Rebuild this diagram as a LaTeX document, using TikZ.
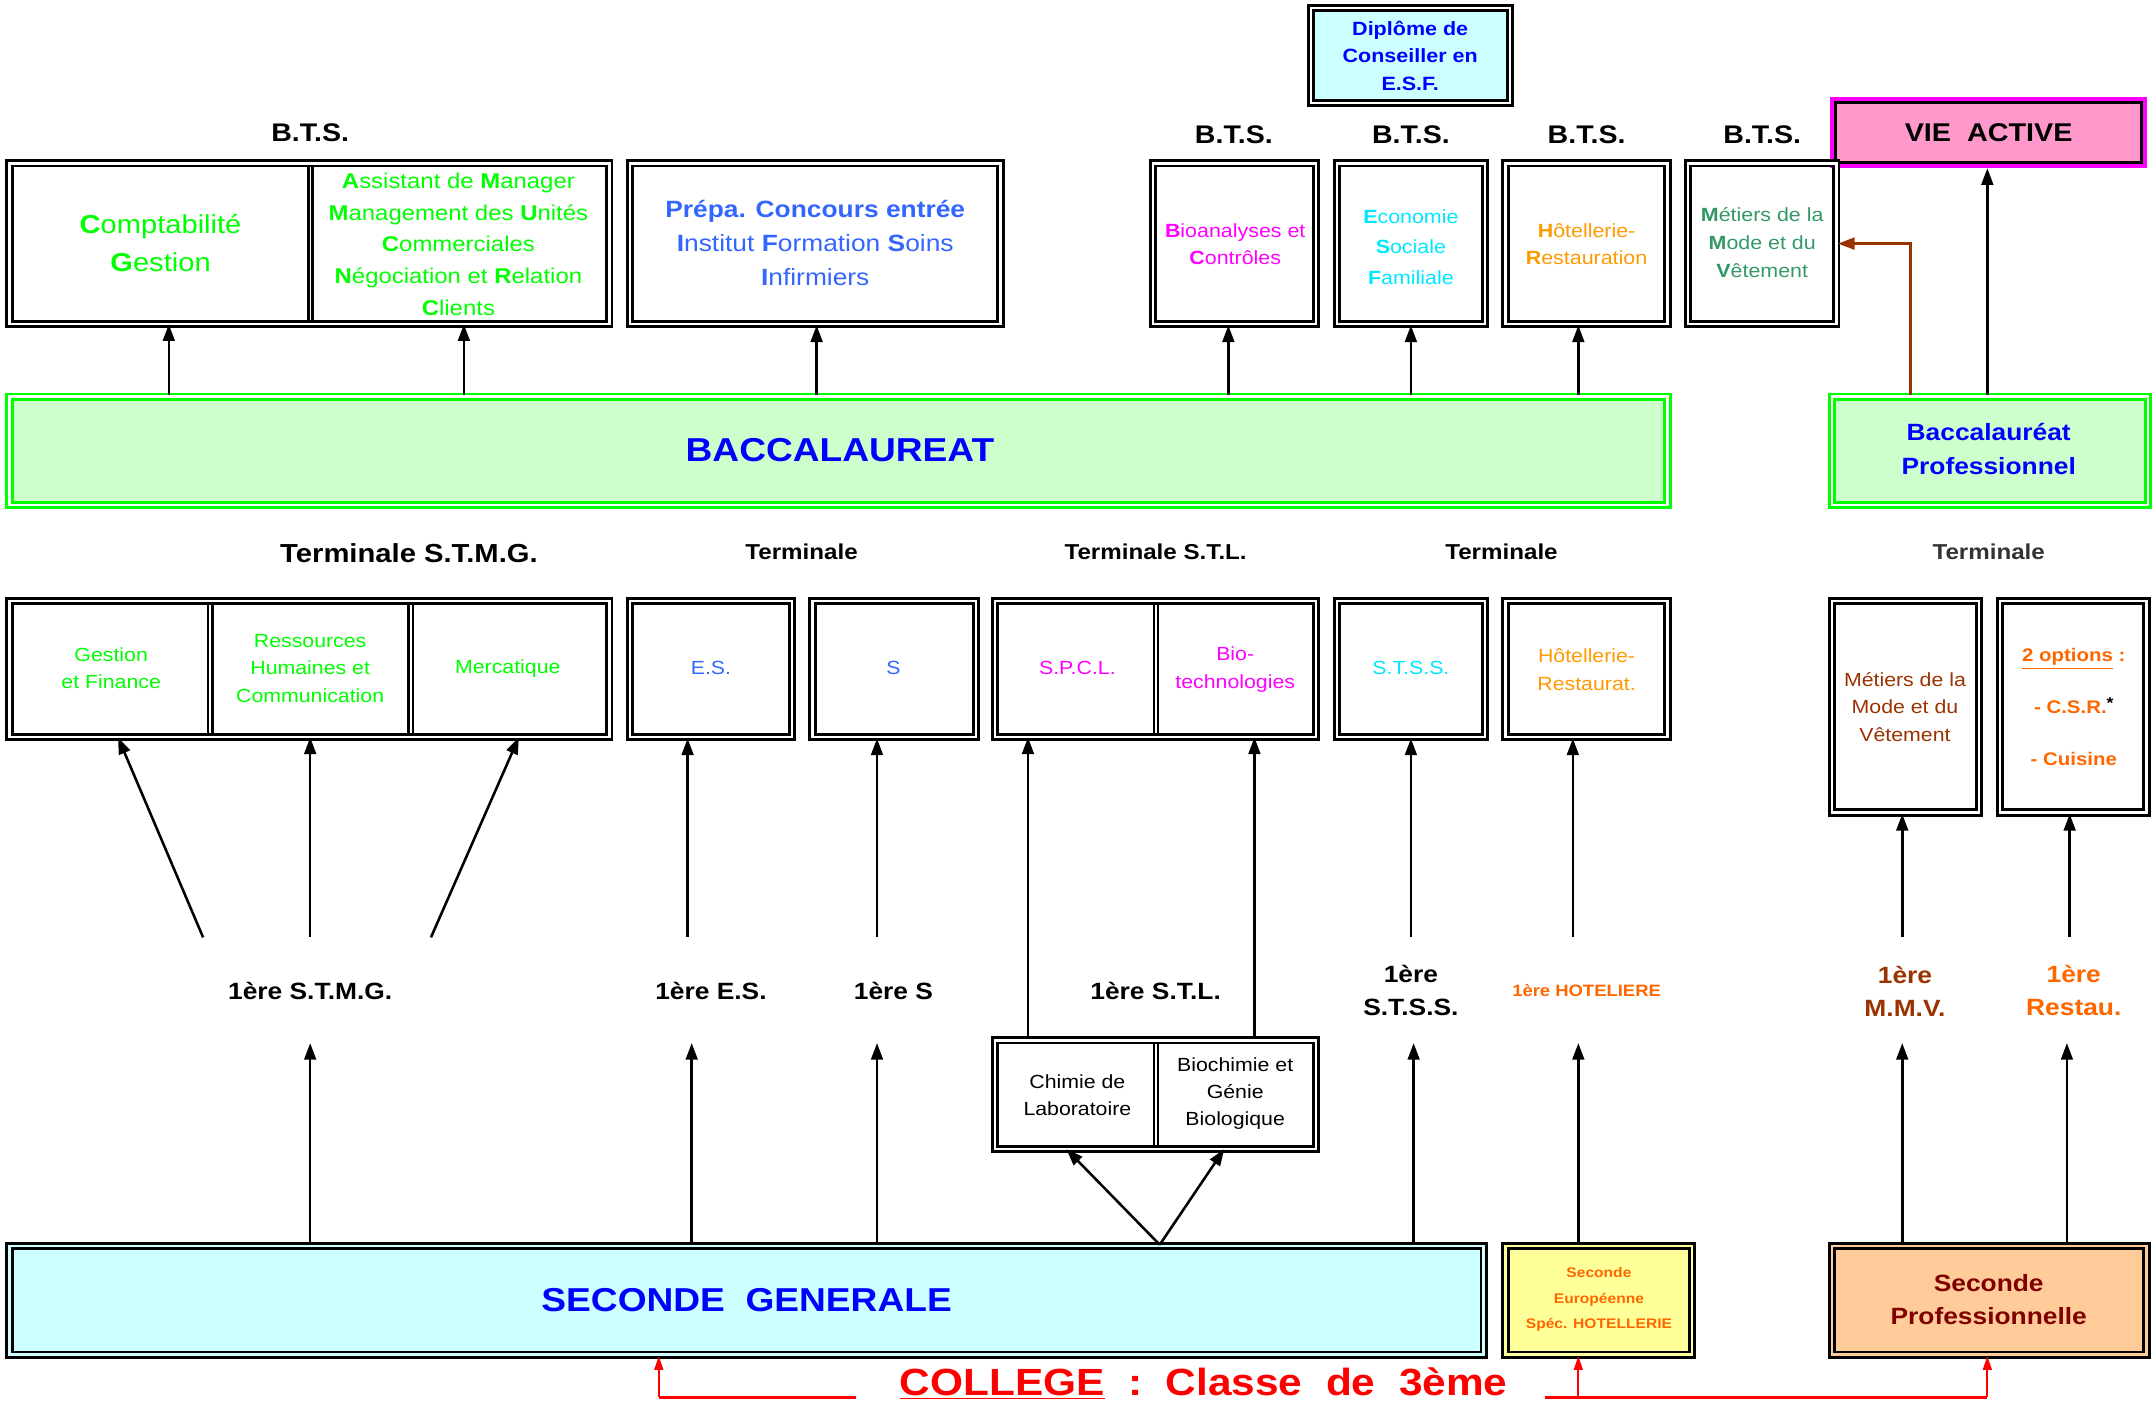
\documentclass[tikz,border=0pt]{standalone}
\usepackage{fontspec}
\setmainfont{Liberation Sans}[FakeStretch=1.12]
\usetikzlibrary{fit,arrows.meta}
\definecolor{cLime}{HTML}{00FF00}
\definecolor{cBacF}{HTML}{CCFFCC}
\definecolor{cBlue}{HTML}{0000FF}
\definecolor{cPrep}{HTML}{3366FF}
\definecolor{cMag}{HTML}{FF00FF}
\definecolor{cCyan}{HTML}{00E8FF}
\definecolor{cOrange}{HTML}{FF9900}
\definecolor{cSea}{HTML}{339966}
\definecolor{cBrown}{HTML}{993300}
\definecolor{cOrRed}{HTML}{FF6600}
\definecolor{cDarkRed}{HTML}{800000}
\definecolor{cRed}{HTML}{FF0000}
\definecolor{cGray}{HTML}{333333}
\definecolor{cPink}{HTML}{FF99CC}
\definecolor{cCyanF}{HTML}{CCFFFF}
\definecolor{cYellowF}{HTML}{FFFF99}
\definecolor{cPeachF}{HTML}{FFCC99}
\newcommand{\myfs}[2]{\fontsize{#1}{#2}\selectfont}
\begin{document}
\begin{tikzpicture}[x=0.7pt,y=-0.7pt,
  dbl/.style={draw=black, line width=1.5pt, double=white, double distance=1.2pt, inner sep=0pt},
  gdbl/.style={draw=cLime, line width=1.5pt, double=white, double distance=1.2pt, inner sep=0pt, fill=cBacF},
  cell/.style={inner sep=0pt},
  divl/.style={draw=black, line width=1.3pt, double=white, double distance=0.9pt},
  lbl/.style={inner sep=0pt, align=center},
  hd/.style={lbl, font=\bfseries\myfs{11}{14}},
  one/.style={lbl, font=\bfseries\myfs{12}{16.8}},
  tc/.style={lbl, font=\myfs{9.7}{14}},
  arr/.style={line width=1.3pt, -{Triangle[length=8.5pt,width=6pt]}},
  brarr/.style={draw=cBrown, line width=1.2pt, -{Triangle[length=8.5pt,width=6pt]}},
  rline/.style={draw=cRed, line width=1.7pt},
  rarr/.style={draw=cRed, line width=1pt, -{Triangle[length=7pt,width=4.5pt]}}
]
\useasboundingbox (0,0) rectangle (1568,1024);

% ---------- top : diploma, BTS, vie active ----------
\node[dbl, fill=cCyanF, fit={(955,6) (1100,75)}] (dipl) {};
\node[lbl, text=cBlue, font=\bfseries\myfs{9.8}{14}] (diplT) at (dipl.center) {Diplôme de\\Conseiller en\\E.S.F.};

\node[hd, font=\bfseries\myfs{13}{15}] (bts1) at (226,97) {B.T.S.};
\node[hd, font=\bfseries\myfs{13}{15}] (bts2) at (899,98) {B.T.S.};
\node[hd, font=\bfseries\myfs{13}{15}] (bts3) at (1028,98) {B.T.S.};
\node[hd, font=\bfseries\myfs{13}{15}] (bts4) at (1156,98) {B.T.S.};
\node[hd, font=\bfseries\myfs{13}{15}] (bts5) at (1284,98) {B.T.S.};

\node[fit={(1335,72) (1563,121)}, inner sep=0pt, draw=cMag, line width=2.2pt, fill=cPink] (vie) {};
\draw[black, line width=1.6pt] ([shift={(2.8pt,-2.8pt)}]vie.north west) rectangle ([shift={(-2.8pt,2.8pt)}]vie.south east);
\node[lbl, font=\bfseries\myfs{13.1}{15}] (vieT) at (vie.center) {VIE\ \ ACTIVE};

% BTS boxes
\node[cell, fit={(7,119) (226,236)}] (cg) {};
\node[cell, fit={(226,119) (444,236)}] (amu) {};
\node[dbl, fit={(7,119) (444,236)}] (grpA) {};
\draw[divl] ([yshift=-2pt]cg.north east) -- ([yshift=2pt]cg.south east);
\node[lbl, text=cLime, font=\myfs{13.25}{19.6}] (cgT) at (117,177) {\textbf{C}omptabilité\\\textbf{G}estion};
\node[lbl, text=cLime, font=\myfs{10.9}{16.1}] (amuT) at (334,178) {\textbf{A}ssistant de \textbf{M}anager\\\textbf{M}anagement des \textbf{U}nités\\\textbf{C}ommerciales\\\textbf{N}égociation et \textbf{R}elation\\\textbf{C}lients};

\node[dbl, fit={(459,119) (729,236)}] (prepa) {};
\node[lbl, text=cPrep, font=\myfs{12}{17.2}] (prepaT) at (594,177) {\textbf{Prépa. Concours entrée}\\\textbf{I}nstitut \textbf{F}ormation \textbf{S}oins\\\textbf{I}nfirmiers};

\node[dbl, fit={(840,119) (959,236)}] (bio) {};
\node[lbl, text=cMag, font=\myfs{9.75}{14}] (bioT) at (900,178) {\textbf{B}ioanalyses et\\\textbf{C}ontrôles};
\node[dbl, fit={(974,119) (1082,236)}] (esf) {};
\node[lbl, text=cCyan, font=\myfs{9.75}{15.75}] (esfT) at (1028,180) {\textbf{E}conomie\\\textbf{S}ociale\\\textbf{F}amiliale};
\node[dbl, fit={(1097,119) (1215,236)}] (hr) {};
\node[lbl, text=cOrange, font=\myfs{9.75}{14}] (hrT) at (1156,178) {\textbf{H}ôtellerie-\\\textbf{R}estauration};
\node[dbl, fit={(1230,119) (1338,236)}] (mmv) {};
\node[lbl, text=cSea, font=\myfs{9.75}{14.3}] (mmvT) at (1284,177) {\textbf{M}étiers de la\\\textbf{M}ode et du\\\textbf{V}êtement};

% ---------- baccalaureat ----------
\node[gdbl, fit={(7,289) (1215,368)}] (bac) {};
\node[lbl, text=cBlue, font=\bfseries\myfs{16.9}{20}] (bacT) at (612,328) {BACCALAUREAT};
\node[gdbl, fit={(1335,289) (1565,368)}] (bacpro) {};
\node[lbl, text=cBlue, font=\bfseries\myfs{12}{17.5}] (bacproT) at (1449,327) {Baccalauréat\\Professionnel};

\draw[arr] (123,0 |- bac.north) -- (123,0 |- cg.south);
\draw[arr] (338,0 |- bac.north) -- (338,0 |- amu.south);
\draw[arr] (595,0 |- bac.north) -- (595,0 |- prepa.south);
\draw[arr] (895,0 |- bac.north) -- (895,0 |- bio.south);
\draw[arr] (1028,0 |- bac.north) -- (1028,0 |- esf.south);
\draw[arr] (1150,0 |- bac.north) -- (1150,0 |- hr.south);
\draw[arr] (1448,0 |- bacpro.north) -- (1448,0 |- vie.south);
\draw[brarr] (1392,0 |- bacpro.north) |- (mmv.east);

% ---------- terminale labels ----------
\node[hd, font=\bfseries\myfs{13.3}{15}] (tl1) at (298,403) {Terminale S.T.M.G.};
\node[hd] (tl2) at (584,402) {Terminale};
\node[hd] (tl3) at (842,402) {Terminale S.T.L.};
\node[hd] (tl4) at (1094,402) {Terminale};
\node[hd, text=cGray] (tl5) at (1449,402) {Terminale};

% ---------- terminale boxes ----------
\node[cell, fit={(7,438) (153,537)}] (gf) {};
\node[cell, fit={(153,438) (299,537)}] (rh) {};
\node[cell, fit={(299,438) (444,537)}] (merc) {};
\node[dbl, fit={(7,438) (444,537)}] (tstmg) {};
\draw[divl] ([yshift=-2pt]gf.north east) -- ([yshift=2pt]gf.south east);
\draw[divl] ([yshift=-2pt]rh.north east) -- ([yshift=2pt]rh.south east);
\node[tc, text=cLime] (gfT) at (81,487) {Gestion\\et Finance};
\node[tc, text=cLime] (rhT) at (226,487) {Ressources\\Humaines et\\Communication};
\node[tc, text=cLime] (mercT) at (370,487) {Mercatique};

\node[dbl, fit={(459,438) (577,537)}] (tes) {};
\node[tc, text=cPrep] (tesT) at (518,487) {E.S.};
\node[dbl, fit={(592,438) (711,537)}] (ts) {};
\node[tc, text=cPrep] (tsT) at (651,487) {S};

\node[cell, fit={(725,438) (842,537)}] (spcl) {};
\node[cell, fit={(842,438) (959,537)}] (biot) {};
\node[dbl, fit={(725,438) (959,537)}] (tstl) {};
\draw[divl] ([yshift=-2pt]spcl.north east) -- ([yshift=2pt]spcl.south east);
\node[tc, text=cMag] (spclT) at (785,487) {S.P.C.L.};
\node[tc, text=cMag] (biotT) at (900,488) {Bio-\\technologies};

\node[dbl, fit={(974,438) (1082,537)}] (tstss) {};
\node[tc, text=cCyan] (tstssT) at (1028,487) {S.T.S.S.};
\node[dbl, fit={(1097,438) (1215,537)}] (thr) {};
\node[tc, text=cOrange] (thrT) at (1156,488) {Hôtellerie-\\Restaurat.};

\node[dbl, fit={(1335,438) (1442,592)}] (tmmv) {};
\node[tc, text=cBrown] (tmmvT) at (1388,515) {Métiers de la\\Mode et du\\Vêtement};
\node[dbl, fit={(1457,438) (1564,592)}] (topt) {};
\node[lbl, text=cOrRed, font=\bfseries\myfs{9.3}{26.5}] (toptT) at (1511,515) {\underline{2 options} :\\- C.S.R.\textcolor{black}{\raisebox{2.5pt}{\myfs{8}{8}*}}\\- Cuisine};

% ---------- premiere labels ----------
\coordinate (r1) at (0,683);
\coordinate (r2) at (0,760);
\node[one] (p1) at (226,722) {1ère S.T.M.G.};
\node[one] (p2) at (518,722) {1ère E.S.};
\node[one] (p3) at (651,722) {1ère S};
\node[one] (p4) at (842,722) {1ère S.T.L.};
\node[one] (p5) at (1028,722) {1ère\\S.T.S.S.};
\node[lbl, text=cOrRed, font=\bfseries\myfs{8.4}{10}] (p6) at (1156,722) {1ère HOTELIERE};
\node[one, text=cBrown] (p7) at (1388,722) {1ère\\M.M.V.};
\node[one, text=cOrRed] (p8) at (1511,722) {1ère\\Restau.};

% STL specialities
\node[cell, fit={(725,758) (842,837)}] (chim) {};
\node[cell, fit={(842,758) (959,837)}] (bioch) {};
\node[dbl, fit={(725,758) (959,837)}] (stlg) {};
\draw[divl] ([yshift=-2pt]chim.north east) -- ([yshift=2pt]chim.south east);
\node[tc] (chimT) at (785,798) {Chimie de\\Laboratoire};
\node[tc, font=\myfs{9.7}{13.7}] (biochT) at (900,797) {Biochimie et\\Génie\\Biologique};

% arrows premiere -> terminale
\draw[arr] (148,0 |- r1) -- (86,0 |- gf.south);
\draw[arr] (226,0 |- r1) -- (226,0 |- rh.south);
\draw[arr] (314,0 |- r1) -- (378,0 |- merc.south);
\draw[arr] (501,0 |- r1) -- (501,0 |- tes.south);
\draw[arr] (639,0 |- r1) -- (639,0 |- ts.south);
\draw[arr] (749,0 |- stlg.north) -- (749,0 |- spcl.south);
\draw[arr] (914,0 |- stlg.north) -- (914,0 |- biot.south);
\draw[arr] (1028,0 |- r1) -- (1028,0 |- tstss.south);
\draw[arr] (1146,0 |- r1) -- (1146,0 |- thr.south);
\draw[arr] (1386,0 |- r1) -- (1386,0 |- tmmv.south);
\draw[arr] (1508,0 |- r1) -- (1508,0 |- topt.south);

% ---------- seconde ----------
\node[dbl, fill=cCyanF, double=cCyanF, fit={(7,908) (1081,987)}] (sg) {};
\node[lbl, text=cBlue, font=\bfseries\myfs{16.9}{20}] (sgT) at (544,947) {SECONDE\ \ GENERALE};
\node[dbl, fill=cYellowF, double=cYellowF, fit={(1097,908) (1233,987)}] (seu) {};
\node[lbl, text=cOrRed, font=\bfseries\myfs{7.1}{13}] (seuT) at (1165,947) {Seconde\\Européenne\\Spéc. HOTELLERIE};
\node[dbl, fill=cPeachF, double=cPeachF, fit={(1335,908) (1564,987)}] (spro) {};
\node[lbl, text=cDarkRed, font=\bfseries\myfs{12}{16.8}] (sproT) at (1449,947) {Seconde\\Professionnelle};

\draw[arr] (226,0 |- sg.north) -- (226,0 |- r2);
\draw[arr] (504,0 |- sg.north) -- (504,0 |- r2);
\draw[arr] (639,0 |- sg.north) -- (639,0 |- r2);
\draw[arr] (845,0 |- sg.north) -- (777,0 |- chim.south);
\draw[arr] (845,0 |- sg.north) -- (892,0 |- bioch.south);
\draw[arr] (1030,0 |- sg.north) -- (1030,0 |- r2);
\draw[arr] (1150,0 |- seu.north) -- (1150,0 |- r2);
\draw[arr] (1386,0 |- spro.north) -- (1386,0 |- r2);
\draw[arr] (1506,0 |- spro.north) -- (1506,0 |- r2);

% ---------- college ----------
\node[lbl, text=cRed, font=\bfseries\myfs{19.3}{22}] (college) at (877,1008) {\underline{COLLEGE}\ \ :\ \ Classe\ \ de\ \ 3ème};
\coordinate (cl) at (624,1018);
\coordinate (cr) at (1126,1018);
\draw[rline] (cl) -- (480,0 |- cl);
\draw[rarr] (480,0 |- cl) -- (480,0 |- sg.south);
\draw[rline] (cr) -- (1448,0 |- cr);
\draw[rarr] (1150,0 |- cr) -- (1150,0 |- seu.south);
\draw[rarr] (1448,0 |- cr) -- (1448,0 |- spro.south);
\end{tikzpicture}
\end{document}
